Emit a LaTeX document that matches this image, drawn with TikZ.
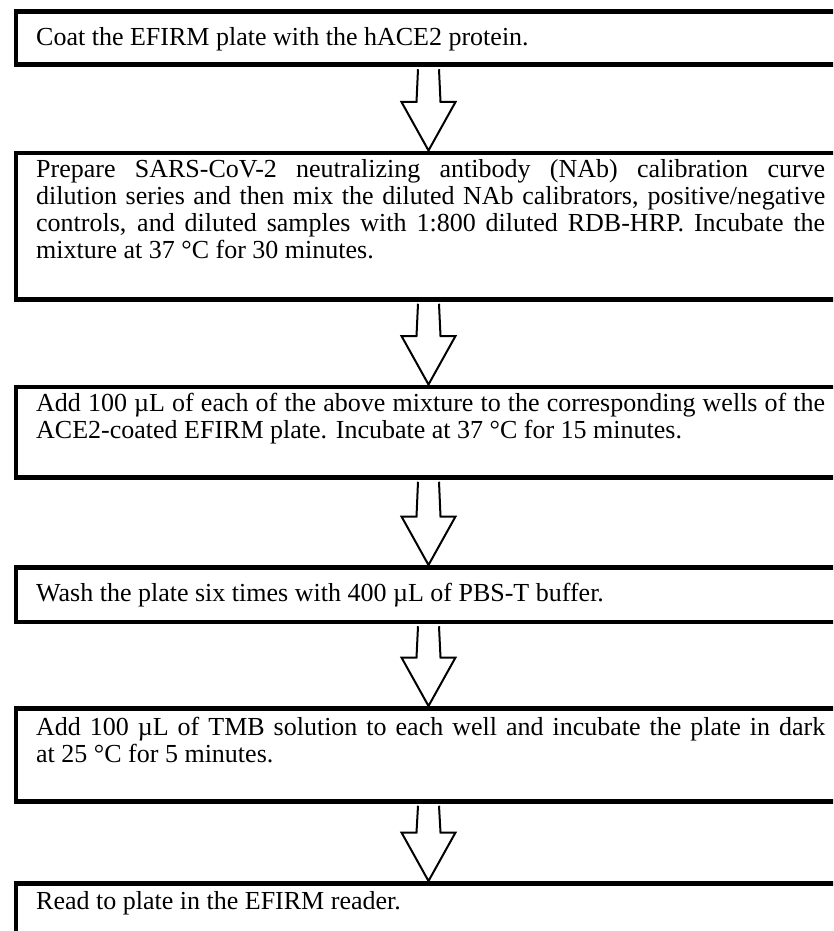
\documentclass[tikz,border=0pt]{standalone}
\usepackage{fontspec}
\setmainfont{Liberation Serif}
\usetikzlibrary{calc}
\tikzset{
  stepbox/.style={draw=black, line width=4.5pt, minimum width=834pt, inner sep=0pt, anchor=north west},
  steptext/.style={anchor=base west, inner sep=0pt, text width=789pt, align=justify,
    font=\fontsize{26}{27}\selectfont},
  blockarr/.style={draw=black, fill=white, line width=2pt, line join=miter},
}
\newcommand\flowarrow[2]{%
  \filldraw[blockarr] let \p1=(#1.south), \p2=(#2.north) in
    (418pt,\y1-2.25pt) -- (416.5pt,\y2+48.5pt) -- (401.5pt,\y2+48.5pt) -- (428.5pt,\y2)
    -- (455.5pt,\y2+48.5pt) -- (440.5pt,\y2+48.5pt) -- (439pt,\y1-2.25pt);}
\begin{document}
\begin{tikzpicture}[x=1pt,y=1pt]
\fill[white] (0,0) rectangle (833,-931);
\useasboundingbox (0,0) rectangle (833,-931);
\clip (0,0) rectangle (833,-931);
% boxes
\node[stepbox, minimum height=53pt]   (b1) at (13.5,-9.5) {};
\node[stepbox, minimum height=146.5pt] (b2) at (13.5,-150.5) {};
\node[stepbox, minimum height=90.5pt] (b3) at (13.5,-384.5) {};
\node[stepbox, minimum height=54.5pt] (b4) at (13.5,-565) {};
\node[stepbox, minimum height=93pt]   (b5) at (13.5,-706) {};
\node[stepbox, minimum height=90pt]   (b6) at (13.5,-881) {};
% texts
\node[steptext] (t1) at (36,-46) {Coat the EFIRM plate with the hACE2 protein.};
\node[steptext] (t2) at (36,-177.5) {Prepare SARS-CoV-2 neutralizing antibody (NAb) calibration curve\linebreak
dilution series and then mix the diluted NAb calibrators, positive/negative\linebreak
controls, and diluted samples with 1:800 diluted RDB-HRP. Incubate the\linebreak
mixture at 37 °C for 30 minutes.};
\node[steptext] (t3) at (36,-411.5) {Add 100 µL of each of the above mixture to the corresponding wells of the\linebreak
ACE2-coated EFIRM plate. Incubate at 37 °C for 15 minutes.};
\node[steptext] (t4) at (36,-601) {Wash the plate six times with 400 µL of PBS-T buffer.};
\node[steptext] (t5) at (36,-735) {Add 100 µL of TMB solution to each well and incubate the plate in dark\linebreak
at 25 °C for 5 minutes.};
\node[steptext] (t6) at (36,-909) {Read to plate in the EFIRM reader.};
% arrows
\flowarrow{b1}{b2}
\flowarrow{b2}{b3}
\flowarrow{b3}{b4}
\flowarrow{b4}{b5}
\flowarrow{b5}{b6}
\end{tikzpicture}
\end{document}
